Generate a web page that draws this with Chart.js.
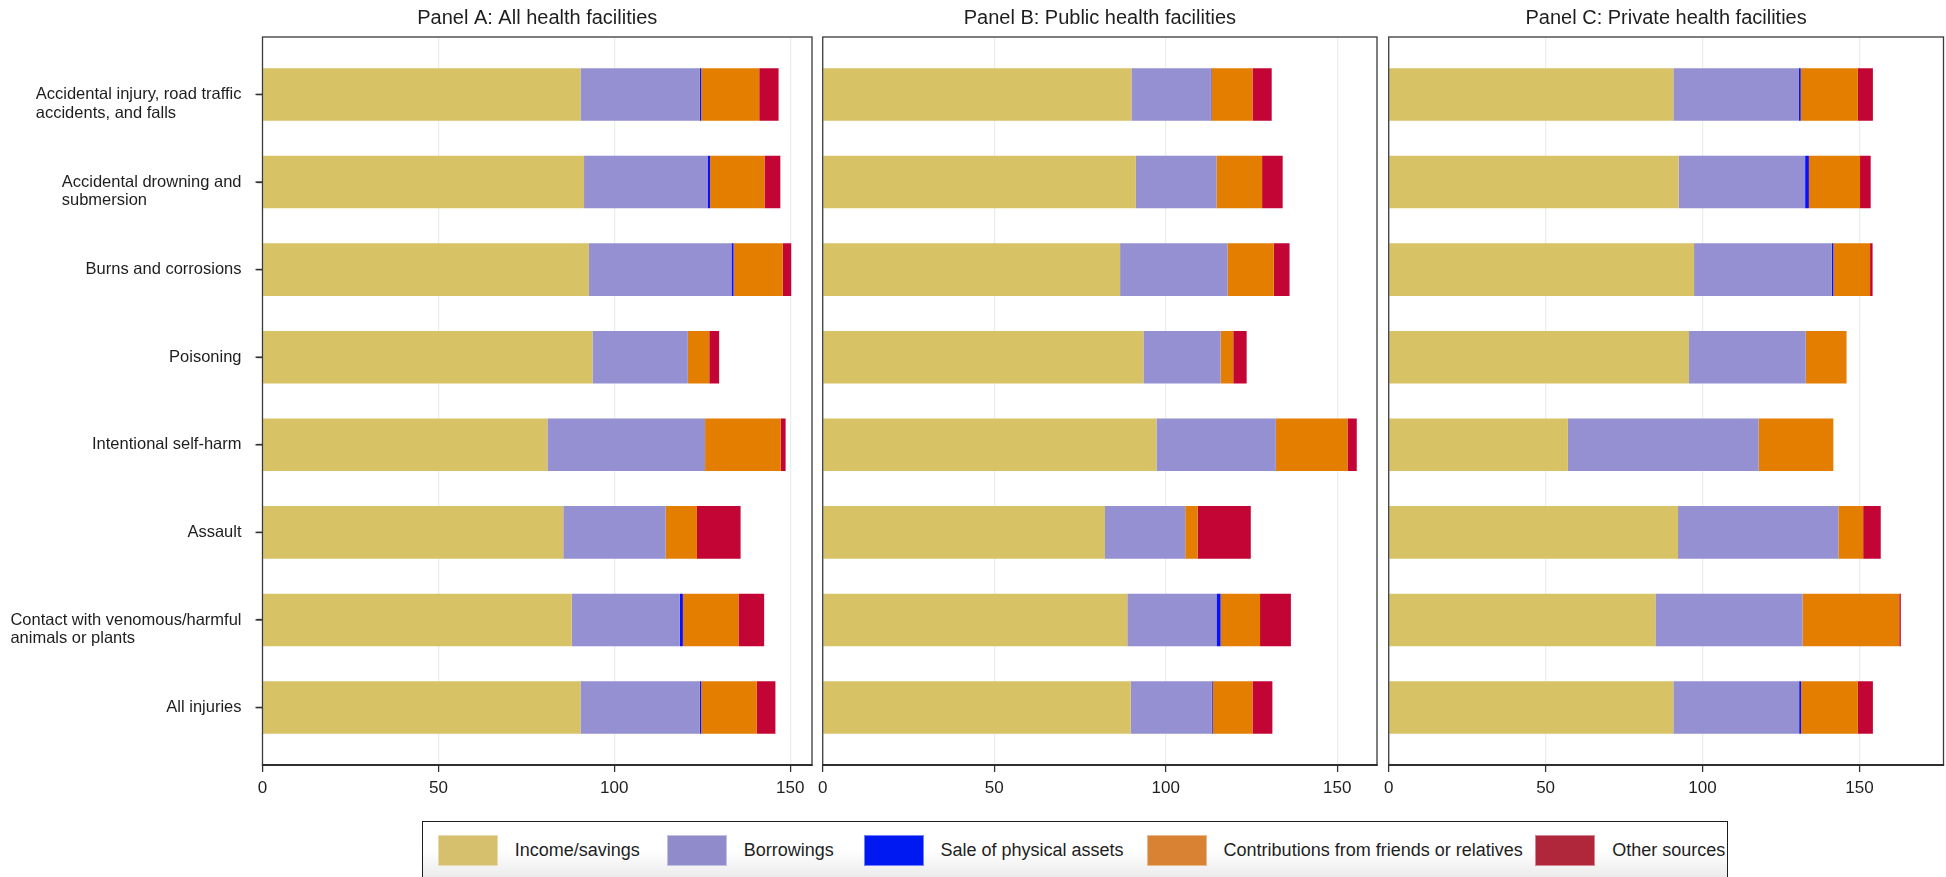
<!DOCTYPE html>
<html>
<head>
<meta charset="utf-8">
<script src="https://cdn.jsdelivr.net/npm/chart.js@4/dist/chart.umd.min.js"></script>
<style>
  html, body { margin: 0; padding: 0; background: #fff; }
  #wrap { position: relative; width: 1946px; height: 877px; overflow: hidden; background: #fff;
          font-family: "Liberation Sans", Arial, sans-serif; }
  canvas { position: absolute; top: 0; }
  #legend { position: absolute; left: 422px; top: 821px; width: 1306px; height: 70px;
            border: 1.5px solid #1e1e1e; box-sizing: border-box;
            background: linear-gradient(to bottom, #ffffff 0px, #ffffff 28px, #e9e9e9 58px); }
  .sw { position: absolute; top: 13px; width: 60px; height: 31px; box-sizing: border-box;
        border: 1px solid rgba(255,255,255,0.45); }
  .lt { position: absolute; top: 17px; font-size: 18px; line-height: 22px; color: #1e1e1e; white-space: nowrap; }
</style>
</head>
<body>
<div id="wrap">
  <canvas id="panelA"></canvas>
  <canvas id="panelB"></canvas>
  <canvas id="panelC"></canvas>
  <div id="legend"></div>
</div>
<script>
// Injury categories (y axis), one entry per row, split into display lines
const categoryLines = [
  ["Accidental injury, road traffic", "accidents, and falls"],
  ["Accidental drowning and", "submersion"],
  ["Burns and corrosions"],
  ["Poisoning"],
  ["Intentional self-harm"],
  ["Assault"],
  ["Contact with venomous/harmful", "animals or plants"],
  ["All injuries"]
];

// Sources of financing
const seriesNames = ["Income/savings", "Borrowings", "Sale of physical assets",
                     "Contributions from friends or relatives", "Other sources"];

// Panel A: All health facilities
const incomeA  = [90.4, 91.4, 92.8, 93.8, 81.0, 85.5, 87.9, 90.4];
const borrowA  = [33.9, 35.1, 40.5, 27.1, 44.8, 29.1, 30.7, 33.9];
const saleA    = [0.4, 0.7, 0.6, 0, 0, 0, 0.9, 0.4];
const contribA = [16.5, 15.5, 14.0, 6.1, 21.5, 8.9, 15.8, 15.8];
const otherA   = [5.5, 4.5, 2.4, 2.8, 1.4, 12.4, 7.3, 5.3];

// Panel B: Public health facilities
const incomeB  = [90.0, 91.3, 86.7, 93.5, 97.3, 82.3, 88.8, 89.8];
const borrowB  = [23.1, 23.5, 31.3, 22.5, 34.8, 23.4, 26.0, 23.6];
const saleB    = [0.2, 0, 0, 0, 0, 0, 1.2, 0.3];
const contribB = [12.0, 13.3, 13.5, 3.7, 20.9, 3.6, 11.5, 11.6];
const otherB   = [5.6, 6.0, 4.6, 3.9, 2.7, 15.5, 9.0, 5.8];

// Panel C: Private health facilities
const incomeC  = [90.7, 92.4, 97.3, 95.7, 57.1, 92.2, 85.0, 90.7];
const borrowC  = [40.0, 40.3, 43.9, 37.2, 60.8, 51.1, 46.9, 40.1];
const saleC    = [0.6, 1.2, 0.5, 0, 0, 0, 0, 0.6];
const contribC = [18.2, 16.3, 11.7, 13.0, 23.8, 7.9, 30.8, 18.1];
const otherC   = [4.8, 3.4, 0.8, 0, 0, 5.6, 0.5, 4.8];

// X-axis tick values
const xTickValues = [0, 50, 100, 150];

// Colours
const barColors    = ["#D8C266", "#9490D1", "#0A10FF", "#E37E00", "#C20535"];
const legendColors = ["#D6C06E", "#908CCB", "#0019F2", "#D98233", "#B0263A"];

const FONT = '"Liberation Sans", Arial, sans-serif';
const TEXT = '#1e1e1e';

// Frame around each plot region
const framePlugin = {
  id: 'frame',
  afterDatasetsDraw(chart) {
    const { ctx, chartArea: a } = chart;
    ctx.save();
    ctx.strokeStyle = '#3a3a3a';
    ctx.lineWidth = 1.3;
    ctx.strokeRect(a.left, a.top, a.right - a.left, a.bottom - a.top);
    ctx.lineWidth = 2.2;
    ctx.strokeStyle = '#2e2e2e';
    ctx.beginPath();
    ctx.moveTo(a.left - 0.6, a.bottom);
    ctx.lineTo(a.right + 0.6, a.bottom);
    ctx.stroke();
    ctx.restore();
  }
};

// Category labels: block right-aligned to the axis, lines left-aligned within it,
// first line level with the category tick; short tick mark outside the frame
const categoryLabelPlugin = {
  id: 'categoryLabels',
  afterDraw(chart) {
    if (!chart.options.plugins.categoryLabels || !chart.options.plugins.categoryLabels.show) return;
    const { ctx, chartArea: a } = chart;
    const y = chart.scales.y;
    ctx.save();
    ctx.strokeStyle = '#333';
    ctx.lineWidth = 1.4;
    ctx.font = '16.5px ' + FONT;
    ctx.fillStyle = TEXT;
    ctx.textBaseline = 'middle';
    ctx.textAlign = 'left';
    const rightEdge = a.left - 21;
    categoryLines.forEach((lines, i) => {
      const py = y.getPixelForValue(i);
      ctx.beginPath();
      ctx.moveTo(a.left - 7, py);
      ctx.lineTo(a.left, py);
      ctx.stroke();
      const w = Math.max(...lines.map(l => ctx.measureText(l).width));
      lines.forEach((line, k) => ctx.fillText(line, rightEdge - w, py + k * 18.7));
    });
    ctx.restore();
  }
};

function makePanel(id, opts) {
  const canvas = document.getElementById(id);
  canvas.width = opts.width;
  canvas.height = 812;
  canvas.style.left = opts.left + 'px';
  canvas.style.width = opts.width + 'px';
  canvas.style.height = '812px';

  const datasets = opts.series.map((vals, s) => ({
    label: seriesNames[s],
    data: vals.map((v, i) => ({ x: v, y: i })),
    backgroundColor: barColors[s],
    borderWidth: 0,
    barPercentage: 0.75,
    categoryPercentage: 0.8
  }));

  return new Chart(canvas, {
    type: 'bar',
    data: { datasets },
    plugins: [framePlugin, categoryLabelPlugin],
    options: {
      indexAxis: 'y',
      responsive: false,
      animation: false,
      devicePixelRatio: 1,
      layout: { padding: opts.padding },
      plugins: {
        legend: { display: false },
        tooltip: { enabled: false },
        categoryLabels: { show: opts.showLabels },
        title: {
          display: true,
          text: opts.title,
          fullSize: false,
          color: TEXT,
          font: { family: FONT, size: 20, weight: 'normal', lineHeight: 1.2 },
          padding: { top: 6, bottom: 7 }
        }
      },
      scales: {
        x: {
          type: 'linear',
          stacked: true,
          min: 0,
          max: opts.xMax,
          afterBuildTicks: (scale) => { scale.ticks = xTickValues.map(v => ({ value: v })); },
          afterFit: (scale) => { scale.height = 47; },
          border: { display: false },
          grid: {
            drawOnChartArea: true,
            color: (c) => (c.tick && c.tick.value === 0) ? 'rgba(0,0,0,0)' : '#e6eeee',
            lineWidth: 1.2,
            drawTicks: true,
            tickLength: 7,
            tickColor: '#333',
            tickWidth: 1.3
          },
          ticks: {
            color: TEXT,
            padding: 6,
            maxRotation: 0,
            font: { family: FONT, size: 17 },
            callback: (v) => String(v)
          }
        },
        y: {
          type: 'linear',
          stacked: true,
          reverse: true,
          offset: false,
          min: -0.656,
          max: categoryLines.length - 1 + 0.656,
          display: opts.showLabels,
          afterBuildTicks: (scale) => { scale.ticks = categoryLines.map((_, i) => ({ value: i })); },
          afterFit: (scale) => { scale.width = opts.showLabels ? 262.5 : 0; },
          border: { display: false },
          grid: {
            offset: false,
            drawOnChartArea: false,
            drawTicks: true,
            tickLength: 6,
            tickColor: '#333',
            tickWidth: 1.3
          },
          ticks: { display: false }
        }
      }
    }
  });
}

makePanel('panelA', {
  left: 0, width: 816, padding: { left: 0, right: 4, top: 0, bottom: 0 },
  title: 'Panel A: All health facilities', xMax: 156.2, showLabels: true,
  series: [incomeA, borrowA, saleA, contribA, otherA]
});
makePanel('panelB', {
  left: 812, width: 570, padding: { left: 8, right: 5, top: 0, bottom: 0 },
  title: 'Panel B: Public health facilities', xMax: 161.6, showLabels: false,
  series: [incomeB, borrowB, saleB, contribB, otherB]
});
makePanel('panelC', {
  left: 1378, width: 568, padding: { left: 7.5, right: 2.5, top: 0, bottom: 0 },
  title: 'Panel C: Private health facilities', xMax: 176.8, showLabels: false,
  series: [incomeC, borrowC, saleC, contribC, otherC]
});

// Legend built from the series names and colours
const legendX = [14.7, 243.8, 440.5, 723.6, 1112.2];
const legend = document.getElementById('legend');
seriesNames.forEach((name, i) => {
  const sw = document.createElement('div');
  sw.className = 'sw';
  sw.style.left = legendX[i] + 'px';
  sw.style.background = legendColors[i];
  legend.appendChild(sw);
  const t = document.createElement('div');
  t.className = 'lt';
  t.style.left = (legendX[i] + 77) + 'px';
  t.textContent = name;
  legend.appendChild(t);
});
</script>
</body>
</html>
